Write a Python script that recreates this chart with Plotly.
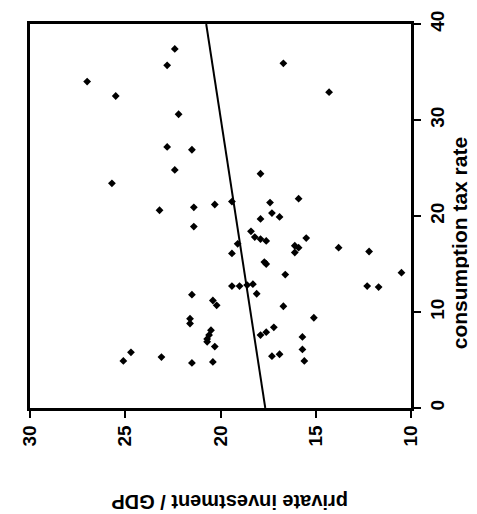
import plotly.graph_objects as go

# private investment / GDP (horizontal, reversed) and consumption tax rate (vertical)
invest = [22.4, 22.8, 27.0, 25.5, 16.7, 14.3, 22.2, 22.8, 21.5, 22.4,
          25.7, 17.9, 23.2, 21.4, 21.4, 20.3, 19.4, 17.4, 15.9, 17.3,
          16.9, 17.9, 18.4, 18.2, 17.9, 17.6, 15.5, 16.1, 15.9, 16.1,
          13.8, 12.2, 19.1, 19.4, 17.7, 17.6, 16.6, 10.5, 12.3, 11.7,
          19.4, 19.0, 18.6, 18.3, 18.1, 21.5, 20.4, 20.2, 16.7, 15.1,
          21.6, 21.6, 17.2, 17.6, 17.9, 20.5, 20.6, 20.7, 20.7, 20.3,
          15.7, 15.7, 15.6, 17.3, 16.9, 24.7, 25.1, 23.1, 21.5, 20.4]
tax = [37.4, 35.7, 34.0, 32.5, 35.9, 32.9, 30.6, 27.2, 26.9, 24.8,
       23.4, 24.4, 20.6, 20.9, 18.9, 21.2, 21.5, 21.4, 21.8, 20.3,
       19.9, 19.7, 18.4, 17.8, 17.6, 17.4, 17.7, 16.9, 16.7, 16.2,
       16.7, 16.3, 17.1, 16.1, 15.2, 15.0, 13.9, 14.1, 12.7, 12.6,
       12.7, 12.7, 12.8, 12.9, 11.9, 11.8, 11.2, 10.7, 10.6, 9.4,
       9.3, 8.8, 8.4, 7.9, 7.6, 8.1, 7.6, 7.2, 6.9, 6.4,
       7.4, 6.1, 4.9, 5.4, 5.6, 5.8, 4.9, 5.3, 4.7, 4.8]

fit_tax = [0, 40]
fit_invest = [17.65, 20.75]

x_ticks = [30, 25, 20, 15, 10]
y_ticks = [0, 10, 20, 30, 40]

fig = go.Figure()
fig.add_trace(go.Scatter(x=invest, y=tax, mode="markers",
                         marker=dict(symbol="diamond", size=6, color="black"),
                         showlegend=False, cliponaxis=False))
fig.add_trace(go.Scatter(x=fit_invest, y=fit_tax, mode="lines",
                         line=dict(color="black", width=2),
                         showlegend=False))

axis_common = dict(showgrid=False, zeroline=False, showline=True, linecolor="black",
                   linewidth=2.5, mirror=True, ticks="outside", ticklen=7,
                   tickwidth=2, tickcolor="black", tickangle=-90, automargin=False,
                   tickfont=dict(size=19, color="black"))

fig.update_xaxes(range=[30, 10], tickvals=x_ticks, **axis_common)
fig.update_yaxes(range=[0, 40], tickvals=y_ticks, side="right", **axis_common)

fig.add_annotation(text="private investment / GDP", xref="paper", yref="paper",
                   x=0.525, y=-0.245, xanchor="center", yanchor="middle",
                   textangle=180, showarrow=False, font=dict(size=20, color="black"))
fig.add_annotation(text="consumption tax rate", xref="paper", yref="paper",
                   x=1.127, y=0.43, xanchor="center", yanchor="middle",
                   textangle=-90, showarrow=False, font=dict(size=21, color="black"))

fig.update_layout(width=477, height=514,
                  margin=dict(l=22, r=74, t=16, b=114, autoexpand=False),
                  plot_bgcolor="white", paper_bgcolor="white",
                  font=dict(family="Liberation Sans, Arial, sans-serif", weight="bold", color="black"))

fig.write_html("out.html")
